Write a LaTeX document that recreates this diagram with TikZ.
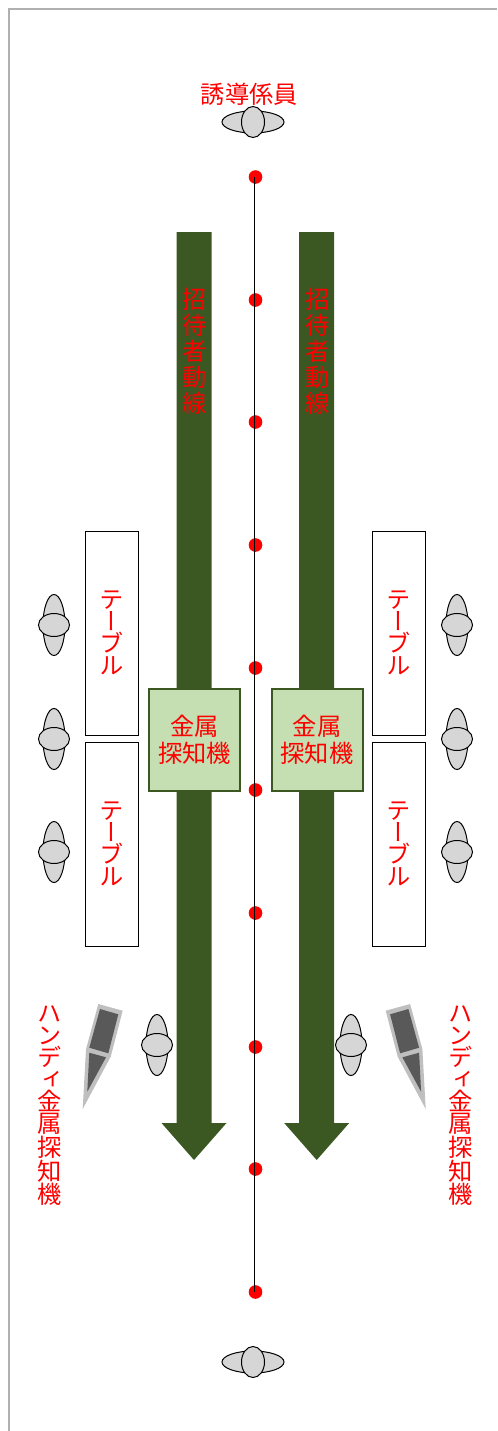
\documentclass[tikz,border=0pt]{standalone}
\usepackage{fontspec}
\setmainfont{Noto Sans CJK JP}
\newfontfamily\vertfont[RawFeature={+vert}]{Noto Sans CJK JP}
\definecolor{routegreen}{HTML}{3B5722}
\definecolor{boxgreen}{HTML}{C5DFB3}
\definecolor{framegray}{HTML}{B0B0B0}
\definecolor{wandgray}{HTML}{BFBFBF}
\definecolor{wanddark}{HTML}{595959}
\tikzset{
    redtext/.style={text=red, inner sep=0pt, align=center, font=\fontsize{18.2pt}{20.5pt}\selectfont},
    vertext/.style={redtext, font=\vertfont\fontsize{18.2pt}{16.6pt}\selectfont},
    routetext/.style={redtext, font=\vertfont\fontsize{18.2pt}{19.5pt}\selectfont},
    tablebox/.style={draw, fill=white, line width=.75pt, minimum width=39.75pt, minimum height=153pt},
    gatebox/.style={draw=routegreen, fill=boxgreen, line width=1.5pt, minimum width=68.25pt, minimum height=76.5pt, redtext},
    dotmark/.style={circle, fill=red, inner sep=0pt, minimum size=10.2pt},
    person/.style={draw, fill=black!16, line width=.75pt}
}
\begin{document}
\begin{tikzpicture}[x=.75pt, y=-.75pt]
\useasboundingbox (0,0) rectangle (497,1431);
\def\faceup#1#2{
        \draw[person] (#1,#2) ellipse (31 and 11);
        \draw[person] (#1,#2) ellipse (11.5 and 15.5);
}
\def\faceside#1#2{
        \draw[person] (#1,#2) ellipse (11 and 30.5);
        \draw[person] (#1,#2) ellipse (15.5 and 11.5);
}
\def\route#1{
        \fill[routegreen] (#1-17.5,232) -- (#1+17.5,232) -- (#1+17.5,1123) -- (#1+32.5,1123)
                -- (#1,1160) -- (#1-32.5,1123) -- (#1-17.5,1123) -- cycle;
}
\def\wand{
        \fill[wandgray] (98.3,1004) -- (122.7,1010.7) -- (110.7,1056.7) -- (82.7,1109) -- (86,1049.3) -- cycle;
        \fill[wanddark] (100,1009) -- (118.3,1014.3) -- (108.3,1053.3) -- (89.3,1047.7) -- cycle;
        \fill[wanddark] (89.3,1052.7) -- (106,1057.3) -- (87.3,1091.7) -- cycle;
}
% frame
\draw[framegray, line width=1.7pt] (9,1431) -- (9,9) -- (497,9);
% guide line
\foreach \y [count=\i] in {177,300,422,545,668,790,913,1047,1169,1292}
        \node[dotmark] (dot\i) at (255.5,\y) {};
\coordinate (linetop) at (254,177);
\coordinate (linebottom) at (254,1292);
\draw[line width=.75pt] (linetop) -- (linebottom);
% routes
\route{194}
\route{316.7}
\node[routetext] (routeleft) at (195,351.5) {招\\待\\者\\動\\線};
\node[routetext] (routeright) at (318,351.5) {招\\待\\者\\動\\線};
\node[gatebox] (gateleft) at (194.5,740) {金属\\探知機};
\node[gatebox] (gateright) at (317,740) {金属\\探知機};
% tables
\foreach \x/\name in {111.5/left, 399/right}{
        \node[tablebox] (\name top) at (\x,633) {};
        \node[tablebox] (\name low) at (\x,844) {};
        \node[vertext] at (\name top) {テ\\ー\\ブ\\ル};
        \node[vertext] at (\name low) {テ\\ー\\ブ\\ル};
}
% people
\node[redtext] (guide) at (249.5,94) {誘導係員};
\faceup{253}{122}
\faceup{253}{1362}
\foreach \y in {625,739,852}{
        \faceside{54}{\y}
        \faceside{457}{\y}
}
\faceside{157}{1045}
\faceside{351}{1045}
% hand-held detectors
\wand
\begin{scope}[xshift=381.3pt, xscale=-1]
\wand
\end{scope}
\node[vertext] (wandleft) at (49.5,1105.5) {ハ\\ン\\デ\\ィ\\金\\属\\探\\知\\機};
\node[vertext] (wandright) at (460.5,1105.5) {ハ\\ン\\デ\\ィ\\金\\属\\探\\知\\機};
\end{tikzpicture}
\end{document}
